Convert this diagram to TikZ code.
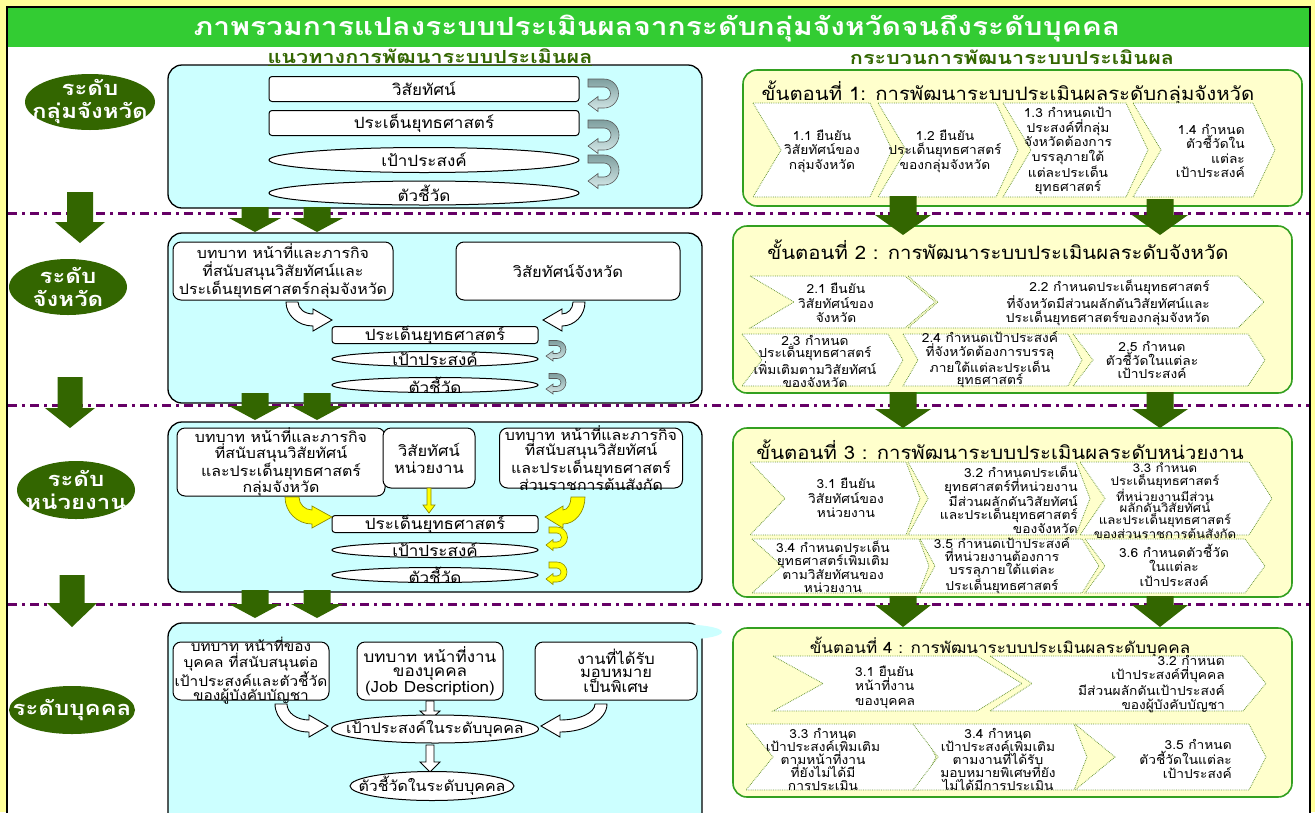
\documentclass[tikz,border=0pt]{standalone}
\usepackage{fontspec}
\setmainfont{Loma}[Script=Thai, FakeStretch=1.1]
\newfontfamily\widefont{Loma}[Script=Thai, FakeStretch=1.2]
\usetikzlibrary{shapes.geometric}

\definecolor{pagebg}{HTML}{FFFF99}
\definecolor{titlegreen}{HTML}{33CC33}
\definecolor{levelgreen}{HTML}{336600}
\definecolor{boxcyan}{HTML}{CCFFFF}
\definecolor{stepfill}{HTML}{FFFFCC}
\definecolor{stepline}{HTML}{33A020}
\definecolor{chevline}{HTML}{6E9A3A}
\definecolor{sepline}{HTML}{660066}
\definecolor{turndark}{HTML}{7F9F9F}
\definecolor{turnlight}{HTML}{D6EAEA}
\definecolor{arrowyellow}{HTML}{FFFF00}
\definecolor{yellowedge}{HTML}{8C8C00}

% chevron outline: xa, xb, ytop, ybottom, notch depth, point depth
\newcommand\chevpath[6]{%
  \draw[chevshape] (#1,#3) -- (#2,#3) -- ({#2+#6},{(#3+#4)/2}) -- (#2,#4)
    -- (#1,#4) -- ({#1+#5},{(#3+#4)/2}) -- cycle;}
% bent arrow turning right: style, x start, y start, x head base, drop, half band, half head, head length
\newcommand\bendright[8]{%
  \path[#1] ({#2-#6},#3) arc[start angle=180,end angle=90,x radius={#4-#2+#6},y radius={#5+#6}]
    -- (#4,{#3+#5+#7}) -- ({#4+#8},{#3+#5}) -- (#4,{#3+#5-#7}) -- (#4,{#3+#5-#6})
    arc[start angle=90,end angle=180,x radius={#4-#2-#6},y radius={#5-#6}] -- cycle;}
% bent arrow turning left
\newcommand\bendleft[8]{%
  \path[#1] ({#2+#6},#3) arc[start angle=0,end angle=90,x radius={#2-#4+#6},y radius={#5+#6}]
    -- (#4,{#3+#5+#7}) -- ({#4-#8},{#3+#5}) -- (#4,{#3+#5-#7}) -- (#4,{#3+#5-#6})
    arc[start angle=90,end angle=0,x radius={#2-#4-#6},y radius={#5-#6}] -- cycle;}
% U-turn arrow: style, x start, centre x, y top, y bottom, half band, half head, head base x, tip x
\newcommand\uturnarrow[9]{%
  \path[#1] (#2,{#4-#6}) -- (#3,{#4-#6}) arc[start angle=-90,end angle=90,radius={(#5-#4)/2+#6}]
    -- (#8,{#5+#6}) -- (#8,{#5+#7}) -- (#9,#5) -- (#8,{#5-#7}) -- (#8,{#5-#6}) -- (#3,{#5-#6})
    arc[start angle=90,end angle=-90,radius={(#5-#4)/2-#6}] -- (#2,{#4+#6}) -- cycle;}
% block arrow pointing down: style, centre x, y top, y tip, half shaft, half head, head length
\newcommand\blockdown[7]{%
  \path[#1] ({#2-#5},#3) -- ({#2+#5},#3) -- ({#2+#5},{#4-#7}) -- ({#2+#6},{#4-#7})
    -- (#2,#4) -- ({#2-#6},{#4-#7}) -- ({#2-#5},{#4-#7}) -- cycle;}

\tikzset{
  levelshape/.style={ellipse, fill=levelgreen, inner sep=0pt},
  leveltext/.style={text=white, align=center, inner sep=0pt, font=\widefont\fontsize{20}{23}\selectfont\bfseries},
  subtitle/.style={text=levelgreen, inner sep=0pt, font=\widefont\fontsize{18}{20}\selectfont\bfseries},
  lbox/.style={draw=black, line width=1.3pt, fill=boxcyan, rounded corners=14pt, inner sep=0pt},
  itemrect/.style={draw=black, line width=1pt, fill=white, rounded corners=3pt, inner sep=0pt},
  itemoval/.style={ellipse, draw=black, line width=1pt, fill=white, inner sep=0pt},
  itemtext/.style={inner sep=0pt, font=\fontsize{15.5}{17}\selectfont},
  srcbox/.style={draw=black, line width=1pt, fill=white, rounded corners=8pt, inner sep=0pt},
  srctext/.style={align=center, inner sep=0pt, font=\fontsize{15}{17}\selectfont},
  stepbox/.style={draw=stepline, line width=1.6pt, fill=stepfill, rounded corners=14pt, inner sep=0pt},
  steptitle/.style={inner sep=0pt, font=\fontsize{18.5}{22}\selectfont},
  chevshape/.style={draw=chevline, densely dotted, line width=0.8pt, fill=white},
  chevtext/.style={align=center, inner sep=0pt, font=\fontsize{12.5}{14.5}\selectfont},
  sepline/.style={draw=sepline, line width=3pt, dash pattern=on 9pt off 5pt on 3pt off 5pt},
  bigarrow/.style={fill=levelgreen},
  openarrow/.style={fill=white, draw=black, line width=0.9pt},
  yelarrow/.style={fill=arrowyellow, draw=yellowedge, line width=0.7pt},
  greyturn/.style={top color=turndark, bottom color=turnlight, draw=black!65, line width=0.6pt},
  yelturn/.style={fill=arrowyellow, draw=yellowedge, line width=0.6pt},
}

\begin{document}
\begin{tikzpicture}[x=1pt,y=-1pt]
\useasboundingbox (0,0) rectangle (1315,812);
\clip (0,0) rectangle (1315,812);

% page frame and title bar
\fill[pagebg] (0,0) rectangle (1315,812);
\draw[line width=1.5pt, fill=white] (7,7) rectangle (1310,830);
\fill[titlegreen] (8,8) rectangle (1309,47);
\node[text=white, inner sep=0pt, font=\widefont\fontsize{25}{28}\selectfont\bfseries] (title) at (657,28)
  {ภาพรวมการแปลงระบบประเมินผลจากระดับกลุ่มจังหวัดจนถึงระดับบุคคล};

% level separators
\draw[sepline] (8,213) -- (1309,213);
\draw[sepline] (8,405) -- (1309,405);
\draw[sepline] (8,604) -- (1309,604);

% level labels
\node[levelshape, minimum width=130pt, minimum height=56pt] (lv1) at (90,102) {};
\node[leveltext] at (lv1) {ระดับ\\กลุ่มจังหวัด};
\node[levelshape, minimum width=118pt, minimum height=56pt] (lv2) at (68,287) {};
\node[leveltext] at (lv2) {ระดับ\\จังหวัด};
\node[levelshape, minimum width=118pt, minimum height=58pt] (lv3) at (76,490) {};
\node[leveltext] at (lv3) {ระดับ\\หน่วยงาน};
\node[levelshape, minimum width=126pt, minimum height=48pt] (lv4) at (72,710) {};
\node[leveltext] at (lv4) {ระดับบุคคล};

% level-to-level arrows on the left
\blockdown{bigarrow}{80}{192}{243}{13}{25}{21}
\blockdown{bigarrow}{70}{377}{428}{12.5}{25}{20}
\blockdown{bigarrow}{72}{575}{627}{12.5}{25}{24}

% ---------------- guideline panels ----------------
\node[lbox, minimum width=534pt, minimum height=143pt] (boxA) at (435,136.5) {};
\node[lbox, minimum width=534pt, minimum height=170pt] (boxB) at (435,318) {};
\node[lbox, minimum width=534pt, minimum height=170pt] (boxC) at (435,507) {};
\node[lbox, minimum width=534pt, minimum height=217pt] (boxD) at (435,731.5) {};
\fill[boxcyan] (675,632) ellipse[x radius=47, y radius=8];

% column headings
\node[subtitle] (subL) at (430,57) {\underline{แนวทางการพัฒนาระบบประเมินผล}};
\node[subtitle] (subR) at (1012,57) {กระบวนการพัฒนาระบบประเมินผล};

% panel A
\node[itemrect, minimum width=310pt, minimum height=25pt] (a1) at (424,89) {};
\node[itemtext] at (a1) {วิสัยทัศน์};
\node[itemrect, minimum width=310pt, minimum height=25pt] (a2) at (424,123) {};
\node[itemtext] at (a2) {ประเด็นยุทธศาสตร์};
\node[itemoval, minimum width=310pt, minimum height=25pt] (a3) at (424,160) {};
\node[itemtext] at (a3) {เป้าประสงค์};
\node[itemoval, minimum width=310pt, minimum height=24pt] (a4) at (424,193) {};
\node[itemtext] at (a4) {ตัวชี้วัด};
\uturnarrow{greyturn}{588}{604}{83}{104}{4}{7.5}{598}{588}
\uturnarrow{greyturn}{588}{604}{124}{146}{4}{7.5}{598}{588}
\uturnarrow{greyturn}{588}{604}{159}{181}{4}{7.5}{598}{588}

% panel B
\node[srcbox, minimum width=220pt, minimum height=58pt] (b1) at (283,271) {};
\node[srctext, font=\fontsize{14.5}{18}\selectfont] at (b1) {บทบาท หน้าที่และภารกิจ\\ที่สนับสนุนวิสัยทัศน์และ\\ประเด็นยุทธศาสตร์กลุ่มจังหวัด};
\node[srcbox, minimum width=224pt, minimum height=58pt] (b2) at (568,271) {};
\node[srctext] at (b2) {วิสัยทัศน์จังหวัด};
\node[itemrect, minimum width=206pt, minimum height=17pt] (b3) at (435,335) {};
\node[itemtext] at (b3) {ประเด็นยุทธศาสตร์};
\node[itemoval, minimum width=206pt, minimum height=15pt] (b4) at (435,359) {};
\node[itemtext] at (b4) {เป้าประสงค์};
\node[itemoval, minimum width=206pt, minimum height=15pt] (b5) at (435,385) {};
\node[itemtext] at (b5) {ตัวชี้วัด};
\bendright{openarrow}{292}{302}{313}{18}{6}{11}{19}
\bendleft{openarrow}{579}{302}{562}{18}{6}{11}{19}
\uturnarrow{greyturn}{549}{557}{343}{356}{2.5}{5}{553}{546}
\uturnarrow{greyturn}{549}{557}{376}{389}{2.5}{5}{553}{546}

% panel C
\node[srcbox, minimum width=208pt, minimum height=68pt] (c1) at (281,462) {};
\node[srctext, font=\fontsize{14.5}{16}\selectfont] at (c1) {บทบาท หน้าที่และภารกิจ\\ที่สนับสนุนวิสัยทัศน์\\และประเด็นยุทธศาสตร์\\กลุ่มจังหวัด};
\node[srcbox, minimum width=92pt, minimum height=60pt] (c2) at (429,458) {};
\node[srctext] at (c2) {วิสัยทัศน์\\หน่วยงาน};
\node[srcbox, minimum width=183pt, minimum height=60pt] (c3) at (591,458) {};
\node[srctext, font=\fontsize{14.5}{15}\selectfont] at (c3) {บทบาท หน้าที่และภารกิจ\\ที่สนับสนุนวิสัยทัศน์\\และประเด็นยุทธศาสตร์\\ส่วนราชการต้นสังกัด};
\node[itemrect, minimum width=206pt, minimum height=17pt] (c4) at (435,524) {};
\node[itemtext] at (c4) {ประเด็นยุทธศาสตร์};
\node[itemoval, minimum width=206pt, minimum height=15pt] (c5) at (435,550) {};
\node[itemtext] at (c5) {เป้าประสงค์};
\node[itemoval, minimum width=206pt, minimum height=15pt] (c6) at (435,575) {};
\node[itemtext] at (c6) {ตัวชี้วัด};
\bendright{yelarrow}{292}{497}{312}{20}{7}{11}{20}
\bendleft{yelarrow}{578}{497}{563}{20}{7}{11}{18}
\blockdown{yelarrow}{429}{488}{513}{2}{6}{8}
\uturnarrow{yelturn}{549}{557}{530}{545}{3}{5.5}{553}{546}
\uturnarrow{yelturn}{549}{557}{565}{579}{3}{5.5}{553}{546}

% panel D
\node[srcbox, minimum width=156pt, minimum height=58pt] (d1) at (251,671) {};
\node[srctext, font=\fontsize{14}{14}\selectfont] at (d1) {บทบาท หน้าที่ของ\\บุคคล ที่สนับสนุนต่อ\\เป้าประสงค์และตัวชี้วัด\\ของผู้บังคับบัญชา};
\node[srcbox, minimum width=146pt, minimum height=58pt] (d2) at (430,671) {};
\node[srctext, font=\fontsize{15.5}{14}\selectfont] at (d2) {บทบาท หน้าที่งาน\\ของบุคคล\\(Job Description)};
\node[srcbox, minimum width=162pt, minimum height=58pt] (d3) at (616,671) {};
\node[srctext, font=\fontsize{15}{13.5}\selectfont] at (d3) {งานที่ได้รับ\\มอบหมาย\\เป็นพิเศษ};
\bendright{openarrow}{281}{704}{309}{22}{6}{11}{19}
\bendleft{openarrow}{601}{704}{560}{22}{6}{11}{19}
\blockdown{openarrow}{430}{701}{720}{4}{10}{9}
\blockdown{openarrow}{430}{745}{772}{4}{10}{10}
\node[itemoval, minimum width=207pt, minimum height=28pt] (d4) at (435,729) {};
\node[itemtext, font=\fontsize{14.5}{17}\selectfont] at (d4) {เป้าประสงค์ในระดับบุคคล};
\node[itemoval, minimum width=164pt, minimum height=29pt] (d5) at (432,786) {};
\node[itemtext, font=\fontsize{14.5}{17}\selectfont] at (d5) {ตัวชี้วัดในระดับบุคคล};

% arrows between guideline panels
\foreach \yy/\ye in {207/232, 393/420, 590/618}{
  \blockdown{bigarrow}{255}{\yy}{\ye}{13.5}{26}{14}
  \blockdown{bigarrow}{317}{\yy}{\ye}{13.5}{26}{14}
}

% ---------------- process steps ----------------
\node[stepbox, minimum width=559pt, minimum height=136pt] (s1) at (1022.5,138) {};
\node[stepbox, minimum width=559pt, minimum height=167pt] (s2) at (1012.5,309.5) {};
\node[stepbox, minimum width=559pt, minimum height=169pt] (s3) at (1012.5,512.5) {};
\node[stepbox, minimum width=559pt, minimum height=169pt] (s4) at (1012.5,712.5) {};

% step 1
\node[steptitle] (s1t) at (1008,93) {ขั้นตอนที่ 1: การพัฒนาระบบประเมินผลระดับกลุ่มจังหวัด};
\chevpath{753}{870}{103}{197}{28}{22}
\chevpath{878}{996}{103}{197}{28}{22}
\chevpath{1003}{1126}{103}{197}{28}{22}
\chevpath{1133}{1253}{103}{197}{28}{22}
\node[chevtext] (t11) at (822,151) {1.1 ยืนยัน\\วิสัยทัศน์ของ\\กลุ่มจังหวัด};
\node[chevtext] (t12) at (945,151) {1.2 ยืนยัน\\ประเด็นยุทธศาสตร์\\ของกลุ่มจังหวัด};
\node[chevtext] (t13) at (1068,151) {1.3 กำหนดเป้า\\ประสงค์ที่กลุ่ม\\จังหวัดต้องการ\\บรรลุภายใต้\\แต่ละประเด็น\\ยุทธศาสตร์};
\node[chevtext, align=right, anchor=east] (t14) at (1245,151) {1.4 กำหนด\\ตัวชี้วัดใน\\แต่ละ\\เป้าประสงค์};

% step 2
\node[steptitle] (s2t) at (998,250) {ขั้นตอนที่ 2 : การพัฒนาระบบประเมินผลระดับจังหวัด};
\chevpath{750}{905}{276}{328}{44}{30}
\chevpath{908}{1238}{276}{328}{30}{26}
\chevpath{742}{888}{334}{386}{20}{15}
\chevpath{903}{1068}{334}{386}{15}{14}
\chevpath{1073}{1248}{334}{386}{20}{17}
\node[chevtext] (t21) at (836,303) {2.1 ยืนยัน\\วิสัยทัศน์ของ\\จังหวัด};
\node[chevtext, align=right, anchor=east] (t22) at (1210,303) {2.2 กำหนดประเด็นยุทธศาสตร์\\ที่จังหวัดมีส่วนผลักดันวิสัยทัศน์และ\\ประเด็นยุทธศาสตร์ของกลุ่มจังหวัด};
\node[chevtext, font=\fontsize{12.5}{12.5}\selectfont] (t23) at (815,361) {2.3 กำหนด\\ประเด็นยุทธศาสตร์\\เพิ่มเติมตามวิสัยทัศน์\\ของจังหวัด};
\node[chevtext, font=\fontsize{12.5}{12.5}\selectfont] (t24) at (990,360) {2.4 กำหนดเป้าประสงค์\\ที่จังหวัดต้องการบรรลุ\\ภายใต้แต่ละประเด็น\\ยุทธศาสตร์};
\node[chevtext, font=\fontsize{12.5}{13.5}\selectfont] (t25) at (1152,360) {2.5 กำหนด\\ตัวชี้วัดในแต่ละ\\เป้าประสงค์};

% step 3
\node[steptitle] (s3t) at (1000,450) {ขั้นตอนที่ 3 : การพัฒนาระบบประเมินผลระดับหน่วยงาน};
\chevpath{750}{906}{462}{535}{35}{14}
\chevpath{908}{1076}{462}{535}{20}{14}
\chevpath{1080}{1249}{462}{535}{25}{23}
\chevpath{752}{919}{539}{593}{30}{10}
\chevpath{920}{1082}{539}{593}{15}{17}
\chevpath{1085}{1245}{539}{593}{20}{20}
\node[chevtext] (t31) at (846,498) {3.1 ยืนยัน\\วิสัยทัศน์ของ\\หน่วยงาน};
\node[chevtext, align=right, anchor=east, font=\fontsize{12.5}{12.8}\selectfont] (t32) at (1078,500) {3.2 กำหนดประเด็น\\ยุทธศาสตร์ที่หน่วยงาน\\มีส่วนผลักดันวิสัยทัศน์\\และประเด็นยุทธศาสตร์\\ของจังหวัด};
\node[chevtext, font=\fontsize{12}{10.8}\selectfont] (t33) at (1165,501) {3.3 กำหนด\\ประเด็นยุทธศาสตร์\\ที่หน่วยงานมีส่วน\\ผลักดันวิสัยทัศน์\\และประเด็นยุทธศาสตร์\\ของส่วนราชการต้นสังกัด};
\node[chevtext, font=\fontsize{12.5}{13}\selectfont] (t34) at (833,567) {3.4 กำหนดประเด็น\\ยุทธศาสตร์เพิ่มเติม\\ตามวิสัยทัศนของ\\หน่วยงาน};
\node[chevtext, font=\fontsize{12.5}{13}\selectfont] (t35) at (1002,566) {3.5 กำหนดเป้าประสงค์\\ที่หน่วยงานต้องการ\\บรรลุภายใต้แต่ละ\\ประเด็นยุทธศาสตร์};
\node[chevtext] (t36) at (1174,565) {3.6 กำหนดตัวชี้วัด\\ในแต่ละ\\เป้าประสงค์};

% step 4
\node[steptitle, font=\fontsize{15.5}{18}\selectfont] (s4t) at (1000,647) {ขั้นตอนที่ 4 : การพัฒนาระบบประเมินผลระดับบุคคล};
\chevpath{773}{977}{656}{711}{50}{45}
\chevpath{990}{1243}{656}{711}{42}{23}
\chevpath{746}{919}{724}{790}{27}{17}
\chevpath{913}{1074}{724}{790}{25}{13}
\chevpath{1075}{1249}{724}{790}{40}{17}
\node[chevtext, align=left, anchor=west] (t41) at (855,687) {3.1 ยืนยัน\\หน้าที่งาน\\ของบุคคล};
\node[chevtext, align=right, anchor=east, font=\fontsize{12.5}{14}\selectfont] (t42) at (1225,684) {3.2 กำหนด\\เป้าประสงค์ที่บุคคล\\มีส่วนผลักดันเป้าประสงค์\\ของผู้บังคับบัญชา};
\node[chevtext, font=\fontsize{12.5}{13}\selectfont] (t43) at (823,759) {3.3 กำหนด\\เป้าประสงค์เพิ่มเติม\\ตามหน้าที่งาน\\ที่ยังไม่ได้มี\\การประเมิน};
\node[chevtext, font=\fontsize{12.5}{13}\selectfont] (t44) at (998,759) {3.4 กำหนด\\เป้าประสงค์เพิ่มเติม\\ตามงานที่ได้รับ\\มอบหมายพิเศษที่ยัง\\ไม่ได้มีการประเมิน};
\node[chevtext, align=right, anchor=east] (t45) at (1232,759) {3.5 กำหนด\\ตัวชี้วัดในแต่ละ\\เป้าประสงค์};

% arrows between process steps
\blockdown{bigarrow}{903}{196}{235}{13.5}{28}{20}
\blockdown{bigarrow}{1160}{199}{235}{13.5}{28}{20}
\blockdown{bigarrow}{903}{392}{428}{13.5}{28}{19}
\blockdown{bigarrow}{1160}{392}{428}{13.5}{28}{19}
\blockdown{bigarrow}{903}{596}{627}{13.5}{28}{22}
\blockdown{bigarrow}{1160}{596}{627}{13.5}{28}{22}
\end{tikzpicture}
\end{document}
